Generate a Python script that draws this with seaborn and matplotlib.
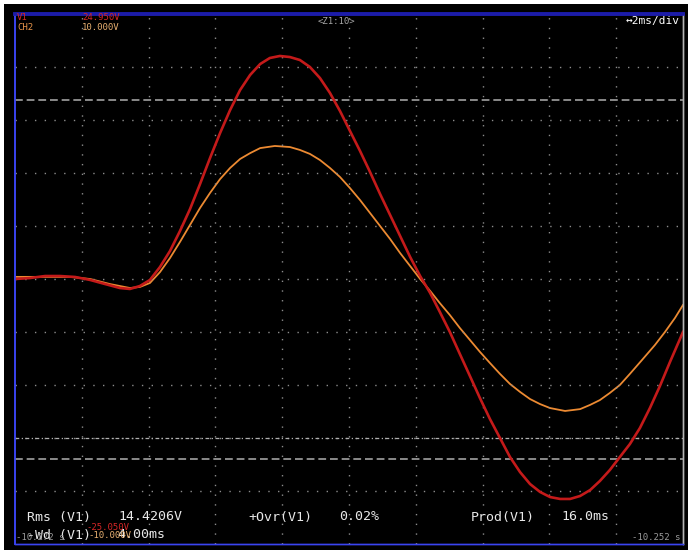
import matplotlib
matplotlib.use("Agg")
import matplotlib.pyplot as plt
import seaborn as sns
import pandas as pd
from matplotlib.patches import Rectangle

# ---- data (time in ms, 2 ms/div) ----
t_v1 = [0.00, 0.45, 0.90, 1.35, 1.80, 2.25, 2.69, 3.14, 3.44, 3.74, 4.04, 4.34, 4.64, 4.94,
        5.24, 5.54, 5.84, 6.14, 6.44, 6.74, 7.04, 7.34, 7.63, 7.93, 8.23, 8.53, 8.83, 9.13,
        9.43, 9.73, 10.03, 10.33, 10.63, 10.93, 11.23, 11.53, 11.83, 12.13, 12.43, 12.72,
        13.02, 13.32, 13.62, 13.92, 14.22, 14.52, 14.82, 15.12, 15.42, 15.72, 16.02, 16.32,
        16.62, 16.92, 17.22, 17.51, 17.81, 18.11, 18.41, 18.71, 19.01, 19.31, 19.61, 20.00]
v1 = [-0.05, 0.04, 0.23, 0.23, 0.14, -0.14, -0.52, -0.90, -0.99, -0.71, -0.14, 1.08, 2.59, 4.48,
      6.55, 8.91, 11.37, 13.72, 15.89, 17.78, 19.20, 20.23, 20.80, 20.99, 20.89, 20.61, 19.95, 18.91,
      17.50, 15.80, 13.91, 12.03, 10.04, 7.97, 5.99, 4.01, 2.03, 0.23, -1.37, -3.16,
      -5.05, -7.13, -9.20, -11.28, -13.26, -15.05, -16.84, -18.26, -19.39, -20.14, -20.62, -20.80,
      -20.80, -20.52, -19.96, -19.11, -18.07, -16.84, -15.62, -14.11, -12.22, -10.14, -7.88, -5.05]
t_ch2 = [0.00, 0.75, 1.65, 2.25, 2.84, 3.44, 3.74, 4.04, 4.34, 4.64, 4.94, 5.24, 5.54, 5.84,
         6.14, 6.44, 6.74, 7.04, 7.34, 7.78, 8.23, 8.53, 8.83, 9.13, 9.43, 9.73, 10.03, 10.33,
         10.63, 10.93, 11.23, 11.53, 11.83, 12.13, 12.43, 12.72, 13.02, 13.32, 13.62, 13.92,
         14.22, 14.52, 14.82, 15.12, 15.42, 15.72, 16.02, 16.47, 16.92, 17.22, 17.51, 17.81,
         18.11, 18.41, 18.77, 19.16, 19.46, 19.76, 20.00]
ch2 = [0.08, 0.08, 0.08, 0.00, -0.19, -0.34, -0.30, -0.15, 0.26, 0.79, 1.40, 2.04, 2.68, 3.25,
       3.77, 4.19, 4.53, 4.75, 4.94, 5.02, 4.98, 4.87, 4.72, 4.49, 4.19, 3.85, 3.43, 2.98,
       2.49, 2.00, 1.51, 0.98, 0.49, 0.00, -0.45, -0.91, -1.36, -1.85, -2.30, -2.75,
       -3.17, -3.58, -3.96, -4.26, -4.53, -4.72, -4.87, -4.98, -4.91, -4.75, -4.57, -4.30,
       -4.00, -3.58, -3.06, -2.49, -2.00, -1.47, -0.98]
v1_range = [-25.05, 24.95]
ch2_range = [-10.0, 10.0]
cursor_levels = [16.84, -17.03]
trigger_level = -15.05

W, H = 688, 550
fig = plt.figure(figsize=(6.88, 5.5), dpi=100, facecolor="white")
fig.patches.append(Rectangle((4 / W, 0), (W - 4) / W, (H - 4) / H, transform=fig.transFigure,
                             facecolor="black", edgecolor="none", zorder=-10))

ax = fig.add_axes([15 / W, 6 / H, 668 / W, 530 / H])
ax.set_facecolor("black")
ax.set_xlim(0, 20)
ax.set_ylim(*v1_range)
ax.set_xticks([2 * k for k in range(1, 10)])
ax.set_yticks([-0.05 + 5 * k for k in range(-4, 5)])
ax.tick_params(length=0, labelbottom=False, labelleft=False)
ax.grid(True, color="#8c8c8c", linestyle=(0, (1, 6)), linewidth=1.0)
ax.set_axisbelow(True)

for lv in cursor_levels:
    ax.axhline(lv, color="#8a8a8a", linestyle=(0, (4, 2)), linewidth=1.4, zorder=1)
ax.axhline(trigger_level, color="#b0b0b0", linestyle=(0, (3, 2, 1, 2)), linewidth=0.9, zorder=1)

ax2 = ax.twinx()
ax2.set_ylim(*ch2_range)
ax2.tick_params(length=0, labelright=False)
ax2.set_yticks([])

df2 = pd.DataFrame({"t": t_ch2, "v": ch2})
sns.lineplot(data=df2, x="t", y="v", ax=ax2, color="#ec8a32", linewidth=1.3,
             solid_joinstyle="round")
df1 = pd.DataFrame({"t": t_v1, "v": v1})
sns.lineplot(data=df1, x="t", y="v", ax=ax, color="#c41a1a", linewidth=1.9,
             solid_joinstyle="round")
# channel 2 axis drawn first (black background + grid from ax on top)
ax2.set_zorder(1)
ax.set_zorder(2)
ax.patch.set_visible(False)
ax2.patch.set_facecolor("black")
ax2.patch.set_visible(True)
ax.set_xlabel(""); ax.set_ylabel(""); ax2.set_xlabel(""); ax2.set_ylabel("")
ax2.set_xlim(0, 20)

for a in (ax, ax2):
    a.spines["left"].set_color("#3a44f0"); a.spines["left"].set_linewidth(1.2)
    a.spines["bottom"].set_color("#3a44f0"); a.spines["bottom"].set_linewidth(1.0)
    a.spines["top"].set_color("#1c1ca8"); a.spines["top"].set_linewidth(2.6)
    a.spines["right"].set_color("#b4b4b4"); a.spines["right"].set_linewidth(1.0)

mono = "DejaVu Sans Mono"

def txt(x, y, s, color, size, **kw):
    fig.text(x / W, 1 - y / H, s, color=color, fontsize=size, family=mono,
             va="center", ha=kw.pop("ha", "left"), zorder=10, **kw)

txt(17, 18, "V1", "#d42626", 6.5)
txt(17, 27, "CH2", "#e8954a", 6.5)
txt(82, 18, "24.950V", "#d42626", 6.5)
txt(82, 27, "10.000V", "#e8b070", 6.5)
txt(336, 21, "<Z1:10>", "#a8a8a8", 6.5, ha="center")
txt(680, 21, "\u21942ms/div", "white", 8, ha="right")

txt(27, 517, "Rms (V1)", "#e8e8e8", 9.5)
txt(118, 517, "14.4206V", "#e8e8e8", 9.5)
txt(248, 517, "+Ovr(V1)", "#e8e8e8", 9.5)
txt(339, 517, "0.02%", "#e8e8e8", 9.5)
txt(471, 517, "Prod(V1)", "#e8e8e8", 9.5)
txt(561, 517, "16.0ms", "#e8e8e8", 9.5)
txt(27, 535, "-Wd (V1)", "#e8e8e8", 9.5)
txt(117, 535, "4.00ms", "#e8e8e8", 9.5)
txt(16, 537, "-10.272 s", "#9a9a9a", 6.5)
txt(86, 527, "-25.050V", "#d42626", 6.5)
txt(88, 535, "-10.000V", "#e8b070", 6.5)
txt(680, 537, "-10.252 s", "#9a9a9a", 6.5, ha="right")

fig.savefig("out.png", dpi=100, facecolor="white")
